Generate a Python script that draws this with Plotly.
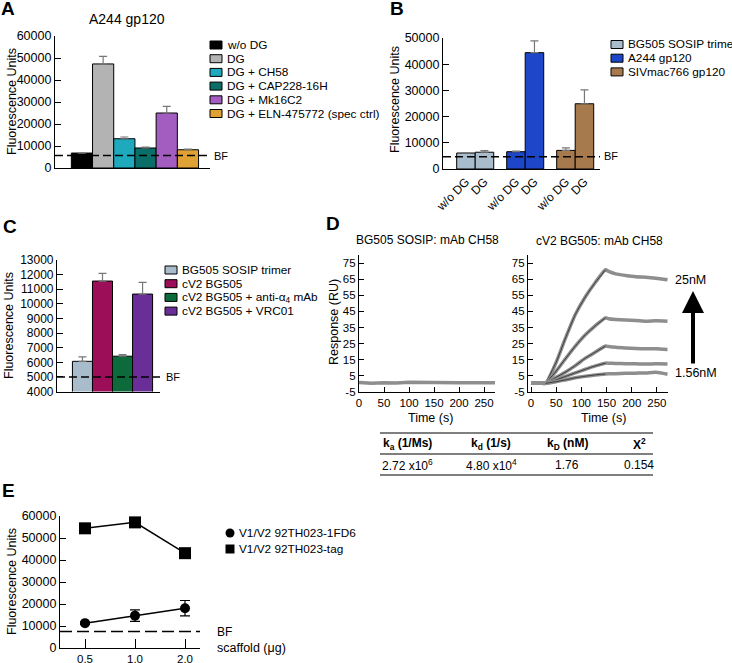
import plotly.graph_objects as go

# ---------------- data ----------------
# Panel A: A244 gp120 binding
a_title = "A244 gp120"
a_labels = ["w/o DG", "DG", "DG + CH58", "DG + CAP228-16H", "DG + Mk16C2",
            "DG + ELN-475772 (spec ctrl)"]
a_values = [6800, 47300, 13300, 9100, 25000, 8300]
a_errors = [0, 3400, 800, 400, 3000, 300]
a_colors = ["#000000", "#b3b3b3", "#1fa9bd", "#0b6e69", "#a35cbf", "#e0a135"]
a_bf = 5700

# Panel B
b_proteins = ["BG505 SOSIP trimer", "A244 gp120", "SIVmac766 gp120"]
b_conditions = ["w/o DG", "DG"]
b_values = [[6100, 6400], [6600, 44400], [7100, 24900]]
b_errors = [[100, 600], [200, 4500], [1000, 5300]]
b_colors = ["#a9bccb", "#1d46c8", "#a77a4e"]
b_bf = 4700

# Panel C
c_labels = ["BG505 SOSIP trimer", "cV2 BG505", "cV2 BG505 + anti-α<sub>4</sub> mAb",
            "cV2 BG505 + VRC01"]
c_values = [6070, 11560, 6420, 10670]
c_errors = [300, 530, 110, 800]
c_colors = ["#a9bccb", "#9c0f58", "#0d6b3b", "#6a2e98"]
c_bf = 5000

# Panel D: SPR sensorgrams
d_titles = ["BG505 SOSIP: mAb CH58", "cV2 BG505: mAb CH58"]
d_time_ctrl = [0, 25, 50, 75, 100, 125, 150, 175, 200, 225, 250, 272]
d_resp_ctrl = [0.9, 0.5, 0.8, 0.6, 1.0, 0.8, 0.6, 0.9, 0.7, 0.8, 0.6, 0.7]
d_time = [0, 10, 20, 29, 50, 68, 88, 108, 128, 148, 154, 168, 188, 208, 228, 248, 271]
d_conc = ["25nM", "12.5nM", "6.25nM", "3.125nM", "1.56nM"]
d_resp = [
    [0.6, 0.5, 0.6, 0.4, 13.5, 28.1, 43.1, 54.1, 63.1, 70.8, 69.8, 68.3, 67.3, 66.5, 66.2, 65.6, 64.6],
    [0.6, 0.5, 0.6, 0.4, 8.0, 15.5, 23.5, 30.5, 36.2, 41.0, 40.5, 40.0, 39.6, 39.4, 38.9, 39.2, 38.9],
    [0.6, 0.5, 0.6, 0.4, 4.1, 7.3, 11.4, 16.0, 19.8, 23.5, 23.2, 22.7, 22.3, 22.0, 21.8, 21.8, 21.4],
    [0.6, 0.5, 0.6, 0.4, 2.5, 4.6, 6.9, 9.1, 11.2, 12.9, 12.9, 12.7, 12.6, 12.5, 12.3, 12.5, 12.4],
    [0.6, 0.5, 0.6, 0.4, 1.4, 2.5, 3.8, 4.8, 5.6, 6.2, 6.3, 6.4, 6.6, 6.7, 6.8, 7.2, 6.0],
]
assoc = slice(3, 10)  # injection phase, where the fit is drawn
d_yticks = list(range(-5, 76, 10))

table_header = ["<b>k<sub>a</sub> (1/Ms)</b>", "<b>k<sub>d</sub> (1/s)</b>",
                "<b>k<sub>D</sub> (nM)</b>", "<b>X<sup>2</sup></b>"]
table_values = ["2.72 x10<sup>6</sup>", "4.80 x10<sup>4</sup>", "1.76", "0.154"]

# Panel E
e_doses = ["0.5", "1.0", "2.0"]
e_names = ["V1/V2 92TH023-1FD6", "V1/V2 92TH023-tag"]
e_1fd6 = [11300, 14700, 18100]
e_1fd6_err = [600, 2600, 3500]
e_tag = [54400, 57100, 43100]
e_bf = 7500

# ---------------- helpers ----------------
W, H = 732, 663
FONT = "Liberation Sans, Arial, sans-serif"


def px(x):
    return x / W


def py(y):
    return 1 - y / H


def ax_style(**kw):
    d = dict(showline=True, linecolor="black", linewidth=1.2, ticks="inside",
             ticklen=6, tickwidth=1.2, tickcolor="black", showgrid=False,
             zeroline=False, automargin=False, tickfont=dict(size=12.5, color="black"))
    d.update(kw)
    return d


def text(fig, x, y, s, size=12.5, anchor="center", angle=0, bold=False):
    if bold:
        s = f"<b>{s}</b>"
    fig.add_annotation(x=px(x), y=py(y), xref="paper", yref="paper", text=s,
                       showarrow=False, xanchor=anchor, yanchor="middle",
                       textangle=angle, font=dict(size=size, color="black"))


def swatch_legend(fig, x0, y0, names, colors, step=13.7):
    for i, (name, color) in enumerate(zip(names, colors)):
        yc = y0 + i * step
        fig.add_shape(type="rect", xref="paper", yref="paper",
                      x0=px(x0), x1=px(x0 + 12), y0=py(yc + 4), y1=py(yc - 4),
                      fillcolor=color, line=dict(color="black", width=1))
        text(fig, x0 + 15, yc, name, size=11.8, anchor="left")


def bf_line(fig, xa, ya, value, dash="8px,4px"):
    fig.add_shape(type="line", xref=f"{xa} domain", yref=ya, x0=0, x1=1,
                  y0=value, y1=value, line=dict(color="black", width=1.5, dash=dash))


fig = go.Figure()

# ---- A ----
fig.add_trace(go.Bar(
    x=list(range(len(a_values))), y=a_values, width=1,
    marker=dict(color=a_colors, line=dict(color="black", width=1)),
    error_y=dict(type="data", symmetric=False, array=a_errors,
                 arrayminus=[0] * len(a_errors), color="#777", thickness=1.2, width=4),
    xaxis="x", yaxis="y"))
bf_line(fig, "x", "y", a_bf)

# ---- B ----
for g, (name, vals, errs, col) in enumerate(zip(b_proteins, b_values, b_errors, b_colors)):
    fig.add_trace(go.Bar(
        x=[g * 2.7 + j for j in range(len(vals))], y=vals, width=1, name=name,
        marker=dict(color=col, line=dict(color="black", width=1)),
        error_y=dict(type="data", symmetric=False, array=errs,
                     arrayminus=[0] * len(errs), color="#777", thickness=1.2, width=4),
        xaxis="x2", yaxis="y2"))
bf_line(fig, "x2", "y2", b_bf)

# ---- C ----
fig.add_trace(go.Bar(
    x=list(range(len(c_values))), y=c_values, width=1,
    marker=dict(color=c_colors, line=dict(color="black", width=1)),
    error_y=dict(type="data", symmetric=False, array=c_errors,
                 arrayminus=[0] * len(c_errors), color="#777", thickness=1.2, width=4),
    xaxis="x3", yaxis="y3"))
bf_line(fig, "x3", "y3", c_bf)

# ---- D ----
fig.add_trace(go.Scatter(x=d_time_ctrl, y=d_resp_ctrl, mode="lines",
                         line=dict(color="#8e8e8e", width=3.5), xaxis="x4", yaxis="y4"))
for resp in d_resp:
    fig.add_trace(go.Scatter(x=d_time, y=resp, mode="lines",
                             line=dict(color="#8e8e8e", width=3.5, shape="spline", smoothing=0.6),
                             xaxis="x5", yaxis="y5"))
    fig.add_trace(go.Scatter(x=d_time[assoc], y=resp[assoc], mode="lines",
                             line=dict(color="#3c3c3c", width=1, shape="spline", smoothing=0.6),
                             xaxis="x5", yaxis="y5"))

# ---- E ----
fig.add_trace(go.Scatter(x=e_doses, y=e_tag, mode="lines+markers", name=e_names[1],
                         line=dict(color="black", width=1.5),
                         marker=dict(symbol="square", size=12, color="black"),
                         xaxis="x6", yaxis="y6"))
fig.add_trace(go.Scatter(x=e_doses, y=e_1fd6, mode="lines+markers", name=e_names[0],
                         line=dict(color="black", width=1.5),
                         marker=dict(symbol="circle", size=10, color="black"),
                         error_y=dict(type="data", array=e_1fd6_err, color="black",
                                      thickness=1.2, width=5),
                         xaxis="x6", yaxis="y6"))
bf_line(fig, "x6", "y6", e_bf, dash="12px,5px")

# ---------------- axes ----------------
d_tickfont = dict(size=11.5, color="black")
fig.update_layout(
    xaxis=ax_style(domain=[px(55), px(210)], range=[-1.27, 6.04], anchor="y",
                   showticklabels=False, ticks=""),
    yaxis=ax_style(domain=[py(168), py(36)], range=[0, 60000], anchor="x",
                   tickvals=list(range(0, 60001, 10000)), tickformat="d"),
    xaxis2=ax_style(domain=[px(443), px(600)], range=[-1.24, 7.24], anchor="y2",
                    ticks="", tickangle=-45, tickfont=dict(size=12, color="black"),
                    tickvals=[g * 2.7 + j for g in range(len(b_proteins))
                              for j in range(len(b_conditions))],
                    ticktext=b_conditions * len(b_proteins)),
    yaxis2=ax_style(domain=[py(169), py(38)], range=[0, 50000], anchor="x2",
                    tickvals=list(range(0, 50001, 10000)), tickformat="d"),
    xaxis3=ax_style(domain=[px(57), px(160)], range=[-1.27, 3.87], anchor="y3",
                    showticklabels=False, ticks=""),
    yaxis3=ax_style(domain=[py(391.6), py(260)], range=[4000, 13000], anchor="x3",
                    tickvals=list(range(4000, 13001, 1000)), tickformat="d",
                    tickfont=dict(size=12, color="black")),
    xaxis4=ax_style(domain=[px(359), px(495)], range=[0, 272], anchor="y4",
                    tickvals=[0, 50, 100, 150, 200, 250], ticklen=5, tickfont=d_tickfont),
    yaxis4=ax_style(domain=[py(392), py(255)], range=[-5, 80], anchor="x4",
                    tickvals=d_yticks, ticktext=[str(v) for v in d_yticks],
                    ticklen=5, tickfont=d_tickfont),
    xaxis5=ax_style(domain=[px(528), px(668)], range=[-6, 272], anchor="y5",
                    tickvals=[0, 50, 100, 150, 200, 250], ticklen=5, tickfont=d_tickfont),
    yaxis5=ax_style(domain=[py(392), py(255)], range=[-5, 80], anchor="x5",
                    tickvals=d_yticks, ticktext=[str(v) for v in d_yticks],
                    ticklen=5, tickfont=d_tickfont),
    xaxis6=ax_style(domain=[px(60), px(200)], range=[-0.5, 2.3], anchor="y6",
                    type="category", categoryorder="array", categoryarray=e_doses,
                    ticklen=9, tickfont=dict(size=11.5, color="black")),
    yaxis6=ax_style(domain=[py(648), py(516)], range=[0, 60000], anchor="x6",
                    tickvals=list(range(0, 60001, 10000)), tickformat="d"),
)

# ---------------- text / legends ----------------
for letter, x, y in [("A", 8, 9), ("B", 397, 9), ("C", 10, 226), ("D", 333, 223), ("E", 8, 490)]:
    text(fig, x, y, letter, size=19, bold=True)

text(fig, 127, 19, a_title, size=14)
text(fig, 12, 102, "Fluorescence Units", angle=-90)
text(fig, 395, 100, "Fluorescence Units", angle=-90)
text(fig, 9, 326, "Fluorescence Units", angle=-90)
text(fig, 334, 322, "Response (RU)", angle=-90)
text(fig, 12, 582, "Fluorescence Units", angle=-90)

text(fig, 212, 156, "BF", size=11, anchor="left")
text(fig, 602, 156, "BF", size=11, anchor="left")
text(fig, 164, 377, "BF", size=11, anchor="left")
text(fig, 215, 632, "BF", size=12, anchor="left")
text(fig, 215, 648, "scaffold (μg)", anchor="left")

swatch_legend(fig, 210, 45, a_labels, a_colors)
swatch_legend(fig, 611, 44.5, b_proteins, b_colors)
swatch_legend(fig, 165, 270, c_labels, c_colors)

# E legend (marker keys)
fig.add_shape(type="circle", xref="paper", yref="paper", x0=px(225.5), x1=px(234.5),
              y0=py(537.5), y1=py(528.5), fillcolor="black", line=dict(color="black", width=0))
fig.add_shape(type="rect", xref="paper", yref="paper", x0=px(225.5), x1=px(234.5),
              y0=py(553.5), y1=py(544.5), fillcolor="black", line=dict(color="black", width=0))
text(fig, 237, 533, e_names[0], size=11.8, anchor="left")
text(fig, 237, 549, e_names[1], size=11.8, anchor="left")

# D titles, labels, arrow
text(fig, 427, 240, d_titles[0], size=12)
text(fig, 599, 241, d_titles[1], size=12)
text(fig, 430, 418, "Time (s)", size=12.5)
text(fig, 603, 418, "Time (s)", size=12.5)
text(fig, 673, 280, d_conc[0], size=12.5, anchor="left")
text(fig, 673, 373, d_conc[-1], size=12.5, anchor="left")
fig.add_annotation(x=px(693), y=py(291), xref="paper", yref="paper", ax=0, ay=74,
                   showarrow=True, arrowhead=2, arrowsize=1.1, arrowwidth=4,
                   arrowcolor="black", text="")

# D kinetics table
for yl in [433, 454, 475]:
    fig.add_shape(type="line", xref="paper", yref="paper", x0=px(380), x1=px(653),
                  y0=py(yl), y1=py(yl), line=dict(color="black", width=1.2))
for xc, h, v in zip([407, 491, 567, 639], table_header, table_values):
    text(fig, xc, 444, h, size=12)
    text(fig, xc, 465, v, size=12)

fig.update_layout(
    width=W, height=H, margin=dict(l=0, r=0, t=0, b=0, pad=0, autoexpand=False),
    paper_bgcolor="white", plot_bgcolor="white", showlegend=False,
    font=dict(family=FONT, color="black"),
)

# the page body has a default 8px margin; drop it so the figure sits at 0,0
fig.write_html("out.html", config={"displayModeBar": False},
               post_script="document.body.style.margin='0';")
